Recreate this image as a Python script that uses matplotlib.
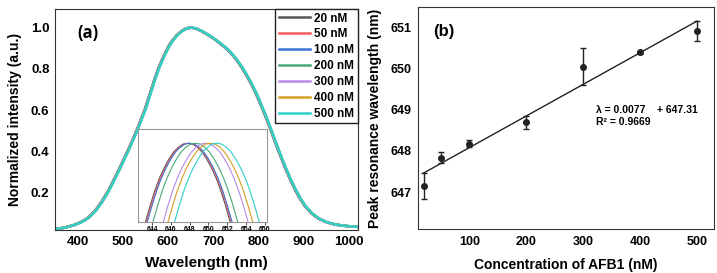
import matplotlib
matplotlib.use("Agg")
import matplotlib.pyplot as plt
import numpy as np

plt.rcParams["font.family"] = ["Liberation Sans", "DejaVu Sans"]
plt.rcParams["font.weight"] = "bold"

# spectrum (reference = 20 nM)
wl = [349, 370, 393, 410, 423, 438, 453, 468, 482, 497, 512, 523, 534, 549, 560, 571, 580,
      590, 600, 607, 618, 629, 640, 651, 662, 673, 688, 703, 718, 733, 748, 762, 773, 784,
      796, 807, 814, 822, 836, 847, 858, 870, 881, 892, 903, 918, 933, 950, 970, 995, 1022]
intensity = [0.023, 0.030, 0.044, 0.060, 0.078, 0.110, 0.155, 0.210, 0.270, 0.338, 0.408,
             0.462, 0.520, 0.605, 0.680, 0.755, 0.810, 0.860, 0.905, 0.930, 0.960, 0.982,
             0.996, 1.0, 0.995, 0.984, 0.965, 0.943, 0.918, 0.890, 0.853, 0.810, 0.770,
             0.727, 0.672, 0.615, 0.578, 0.533, 0.450, 0.387, 0.325, 0.265, 0.214, 0.170,
             0.134, 0.098, 0.074, 0.057, 0.045, 0.038, 0.034]

concentrations = ["20 nM", "50 nM", "100 nM", "200 nM", "300 nM", "400 nM", "500 nM"]
colors = ["#555555", "#f45b5b", "#3a72d6", "#4aa874", "#b98ae6", "#d4a024", "#2fd0cb"]
# peak positions from the inset (nm)
inset_peaks = [647.8, 647.9, 648.0, 648.6, 649.7, 650.2, 650.9]

# inset peak profile: offset from peak (nm) vs relative intensity
profile_dx = [-4.8, -4.5, -4.0, -3.5, -3.0, -2.5, -2.0, -1.5, -1.0, -0.5, 0.0,
              0.5, 1.0, 1.5, 2.0, 2.5, 3.0, 3.5, 4.0, 4.5, 4.8]
profile_y = [-0.14, 0.0, 0.21, 0.40, 0.56, 0.69, 0.80, 0.89, 0.95, 0.99, 1.0,
             0.99, 0.95, 0.89, 0.80, 0.69, 0.56, 0.40, 0.21, 0.0, -0.14]

# panel (b)
conc = [20, 50, 100, 200, 300, 400, 500]
peak_wl = [647.15, 647.84, 648.18, 648.70, 650.05, 650.40, 650.92]
peak_err = [0.31, 0.14, 0.09, 0.16, 0.45, 0.03, 0.25]
slope, intercept = 0.0077, 647.31

fig = plt.figure(figsize=(7.17, 2.73), dpi=100)

# ---- panel (a)
ax1 = fig.add_axes([0.0767, 0.1575, 0.4226, 0.8095])
for name, c, p in zip(concentrations, colors, inset_peaks):
    shift = (p - inset_peaks[0]) * 0.5
    ax1.plot(np.array(wl) + shift, intensity, color=c, lw=1.8, label=name)
ax1.set_xlim(350, 1020)
ax1.set_ylim(0.019, 1.09)
ax1.set_xticks([400, 500, 600, 700, 800, 900, 1000])
ax1.set_yticks([0.2, 0.4, 0.6, 0.8, 1.0])
ax1.tick_params(length=0, labelsize=9.5, pad=4)
ax1.set_xlabel("Wavelength (nm)", fontsize=11, fontweight="bold", labelpad=6)
ax1.set_ylabel("Normalized intensity (a.u.)", fontsize=10, fontweight="bold", labelpad=6)
for s in ax1.spines.values():
    s.set_color("#333333")
ax1.text(0.075, 0.87, "(a)", transform=ax1.transAxes, fontsize=12, fontweight="bold",
         family=["Open Sans", "DejaVu Sans"])
leg = ax1.legend(loc="upper right", borderaxespad=0, fontsize=8.5, handlelength=2.6,
                 handletextpad=0.4, labelspacing=0.33, fancybox=False, framealpha=1,
                 borderpad=0.3)
leg.get_frame().set_edgecolor("#222222")
leg.get_frame().set_linewidth(1.0)

# inset
axi = fig.add_axes([0.1925, 0.188, 0.1795, 0.3407])
for c, p in zip(colors, inset_peaks):
    axi.plot(np.array(profile_dx) + p, profile_y, color=c, lw=0.8)
axi.set_xlim(642.5, 656.2)
axi.set_ylim(0, 1.186)
axi.set_xticks([644, 646, 648, 650, 652, 654, 656])
axi.set_yticks([])
axi.tick_params(axis="x", length=2, labelsize=5, pad=1, width=0.5)
for s in axi.spines.values():
    s.set_color("#999999")

# ---- panel (b)
ax2 = fig.add_axes([0.583, 0.161, 0.413, 0.813])
fit_x = np.array([conc[0], conc[-1]])
ax2.plot(fit_x, slope * fit_x + intercept, color="#222222", lw=1.0)
ax2.errorbar(conc, peak_wl, yerr=peak_err, fmt="o", color="#222222", ms=4,
             capsize=2.5, elinewidth=1.0, capthick=1.0)
ax2.set_xlim(10, 530)
ax2.set_ylim(646.1, 651.5)
ax2.set_xticks([100, 200, 300, 400, 500])
ax2.set_yticks([647, 648, 649, 650, 651])
ax2.tick_params(length=0, labelsize=9, pad=5)
ax2.set_xlabel("Concentration of AFB1 (nM)", fontsize=10, fontweight="bold", labelpad=7)
ax2.set_ylabel("Peak resonance wavelength (nm)", fontsize=10, fontweight="bold", labelpad=6)
for s in ax2.spines.values():
    s.set_color("#333333")
ax2.text(0.05, 0.87, "(b)", transform=ax2.transAxes, fontsize=12, fontweight="bold")
ax2.text(0.6, 0.56, "λ = 0.0077    + 647.31\nR² = 0.9669", transform=ax2.transAxes,
         fontsize=7.5, fontweight="bold", va="top", linespacing=1.3)

fig.savefig("out.png", dpi=100)
